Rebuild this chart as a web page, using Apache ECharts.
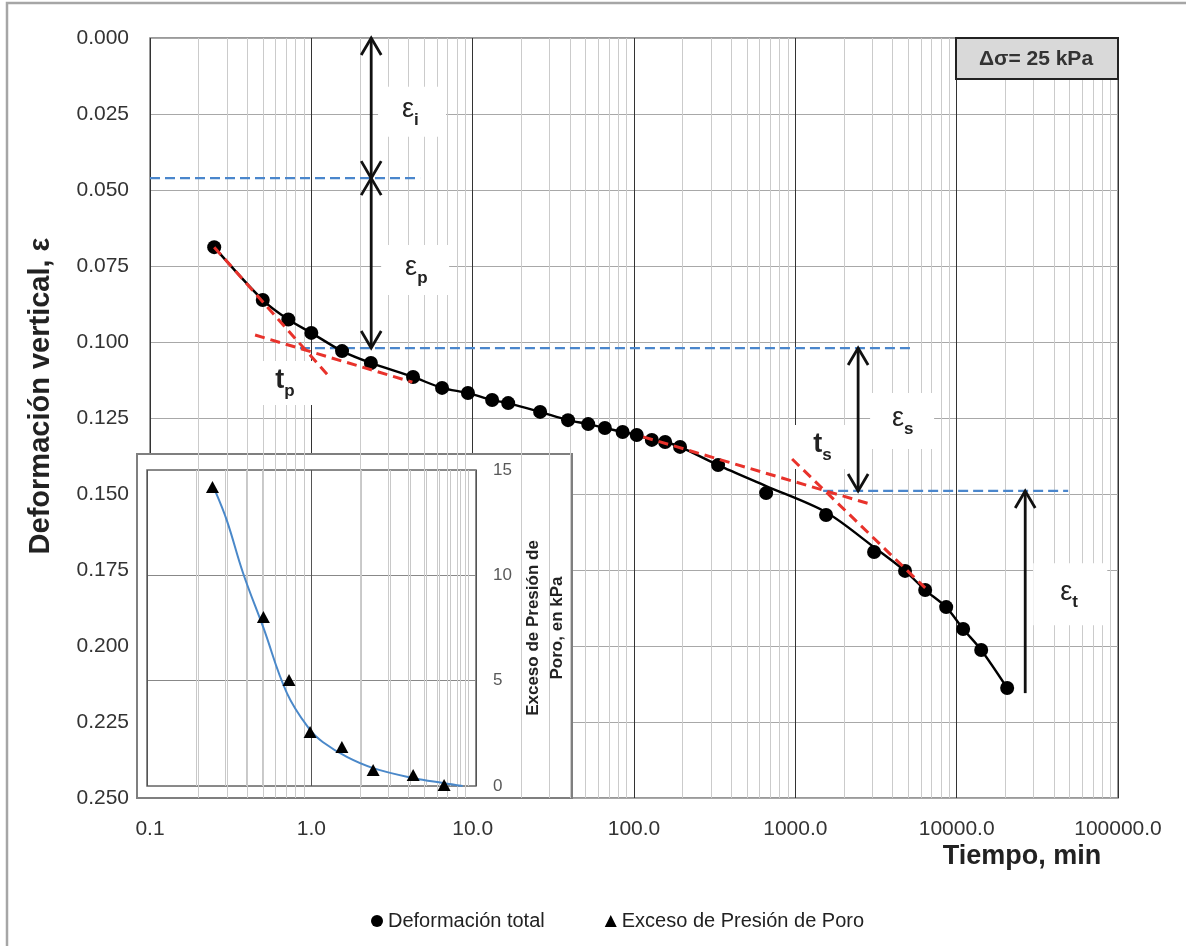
<!DOCTYPE html>
<html><head><meta charset="utf-8">
<script src="https://cdn.jsdelivr.net/npm/echarts@6/dist/echarts.min.js"></script>
<style>html,body{margin:0;padding:0;background:#fff}#c{width:1186px;height:946px}</style>
</head><body><div id="c"></div>
<script>
// ---------- data ----------
const timeMin = [0.25, 0.5, 0.72, 1.0, 1.55, 2.34, 4.27, 6.46, 9.35, 13.2, 16.6, 26.2, 39, 52, 66, 85, 104, 129, 156, 193, 332, 659, 1550, 3076, 4786, 6380, 8610, 10970, 14190, 20560];
const strain  = [0.0688, 0.0862, 0.0926, 0.0970, 0.1030, 0.1069, 0.1115, 0.1151, 0.1168, 0.1191, 0.1201, 0.1230, 0.1257, 0.1270, 0.1283, 0.1296, 0.1306, 0.1322, 0.1329, 0.1345, 0.1405, 0.1497, 0.1569, 0.1691, 0.1753, 0.1816, 0.1872, 0.1944, 0.2013, 0.2138];
const curveTime   = [0.25, 0.5, 0.72, 1.0, 1.55, 2.34, 4.27, 6.46, 9.35, 13.2, 16.6, 26.2, 39, 52, 66, 85, 104, 129, 156, 193, 332, 659, 1550, 3076, 4786, 6380, 8610, 10970, 14190, 20560];
const curveStrain = [0.0688, 0.0862, 0.0926, 0.0970, 0.1030, 0.1069, 0.1115, 0.1151, 0.1168, 0.1191, 0.1201, 0.1230, 0.1257, 0.1270, 0.1283, 0.1296, 0.1306, 0.1322, 0.1329, 0.1345, 0.1405, 0.1474, 0.1560, 0.1675, 0.1753, 0.1816, 0.1872, 0.1944, 0.2013, 0.2138];

const poreTime     = [0.25, 0.51, 0.73, 0.98, 1.53, 2.37, 4.15, 6.4];
const porePressure = [14.19, 8.02, 5.03, 2.56, 1.85, 0.76, 0.52, 0.05];
const poreCurveTime = [0.26, 0.306, 0.384, 0.508, 0.71, 0.98, 1.17, 1.64, 2.37, 4.15, 6.3, 8.3];
const poreCurve     = [14.0, 12.6, 10.1, 7.55, 4.4, 2.66, 2.09, 1.38, 0.85, 0.38, 0.14, 0.0];

// construction lines [[t, eps], [t, eps]]
const tangentPrimary1   = [[0.25, 0.0688], [1.31, 0.1118]];
const tangentPrimary2   = [[0.448, 0.0977], [4.23, 0.1132]];
const tangentSecondary1 = [[114, 0.1312], [3035, 0.1536]];
const tangentSecondary2 = [[955, 0.1385], [6380, 0.1809]];
const levelInitial   = [[0.1, 0.0461], [4.72, 0.0461]];
const levelPrimary   = [[0.85, 0.1020], [5150, 0.1020]];
const levelSecondary = [[1487, 0.1490], [49100, 0.1490]];

// annotation arrows: [t, epsFrom, epsTo]
const arrowEpsI = [2.35, 0.0, 0.0461];
const arrowEpsP = [2.35, 0.0461, 0.1020];
const arrowEpsS = [2450, 0.1020, 0.1490];
const arrowEpsT = [26600, 0.2155, 0.1490];
// labels: [t, eps, main, sub]
const labelEpsI = [4.21, 0.0243, 'ε', 'i'];
const labelEpsP = [4.40, 0.0763, 'ε', 'p'];
const labelTp   = [0.66, 0.1135, 't', 'p'];
const labelTs   = [1426, 0.1345, 't', 's'];
const labelEpsS = [4590, 0.1260, 'ε', 's'];
const labelEpsT = [50600, 0.1830, 'ε', 't'];

const xTickDecimals = 1;
const yTickDecimals = 3;

// ---------- chart ----------
const NARROW = '"Liberation Sans Narrow", "Arial Narrow", "Liberation Sans", Arial, sans-serif';
const SANS = '"Liberation Sans", Arial, sans-serif';
const zip = (a, b) => a.map((v, i) => [v, b[i]]);
function minorValues(lo, hi) {
  const out = [];
  for (let d = lo; d < hi * 0.999; d *= 10) for (let k = 2; k <= 9; k++) out.push(Number((d * k).toPrecision(6)));
  return out;
}
const mainMinor = minorValues(0.1, 100000);
const insetMinor = minorValues(0.1, 10);
const fmtX = v => { const n = Number(Number(v).toPrecision(6)); return n < 1 ? String(n) : n.toFixed(xTickDecimals); };

const chart = echarts.init(document.getElementById('c'));
const red = '#e8322b', blue = '#4a86cc';
function dashed(data, color, width, z, dash) {
  return { type: 'line', xAxisIndex: 0, yAxisIndex: 0, data: data, symbol: 'none', silent: true, z: z,
    lineStyle: { color: color, width: width, type: dash } };
}
const option = {
  animation: false,
  backgroundColor: '#fff',
  grid: [
    { left: 150, top: 38, width: 968, height: 760, show: true, borderColor: '#7a7a7a', borderWidth: 1.5, z: 0 },
    { left: 147, top: 470, width: 329, height: 316, show: true, borderColor: '#666', borderWidth: 1.5, backgroundColor: 'transparent', z: 5 }
  ],
  xAxis: [
    { type: 'log', logBase: 10, min: 0.1, max: 100000, splitNumber: 6, gridIndex: 0,
      axisLine: { show: false }, axisTick: { show: false },
      axisLabel: { formatter: fmtX, margin: 21, fontSize: 21, color: '#333', fontFamily: NARROW },
      splitLine: { show: true, lineStyle: { color: '#333', width: 1 } }, z: 0 },
    { type: 'log', logBase: 10, min: 0.1, max: 10, splitNumber: 2, gridIndex: 1,
      axisLine: { show: false }, axisTick: { show: false }, axisLabel: { show: false },
      splitLine: { show: true, lineStyle: { color: '#555', width: 1 } }, z: 5 }
  ],
  yAxis: [
    { type: 'value', inverse: true, min: 0, max: 0.25, interval: 0.025, gridIndex: 0,
      axisLine: { show: false }, axisTick: { show: false },
      axisLabel: { formatter: v => v.toFixed(yTickDecimals), margin: 21, fontSize: 21, color: '#333', fontFamily: SANS },
      splitLine: { lineStyle: { color: '#a8a8a8', width: 1 } }, z: 0 },
    { type: 'value', min: 0, max: 15, interval: 5, gridIndex: 1, position: 'right',
      axisLine: { show: false }, axisTick: { show: false },
      axisLabel: { margin: 17, fontSize: 17, color: '#595959', fontFamily: SANS },
      splitLine: { lineStyle: { color: '#888', width: 1 } }, z: 5 }
  ],
  legend: {
    data: [{ name: 'Deformación total', icon: 'circle' }, { name: 'Exceso de Presión de Poro', icon: 'triangle' }],
    left: 366, top: 906, itemWidth: 12, itemHeight: 12, itemGap: 60, selectedMode: false,
    textStyle: { fontSize: 20, color: '#222', fontFamily: NARROW }
  },
  series: [
    { type: 'line', xAxisIndex: 0, yAxisIndex: 0, data: [], silent: true, z: 1,
      markLine: { silent: true, animation: false, symbol: ['none', 'none'], label: { show: false },
        lineStyle: { color: '#cbcbcb', width: 1, type: 'solid' }, data: mainMinor.map(v => ({ xAxis: v })) } },
    { type: 'line', xAxisIndex: 1, yAxisIndex: 1, data: [], silent: true, z: 4,
      markLine: { silent: true, animation: false, symbol: ['none', 'none'], label: { show: false },
        lineStyle: { color: '#c8c8c8', width: 1, type: 'solid' }, data: insetMinor.map(v => ({ xAxis: v })) } },
    dashed(levelInitial, blue, 2.2, 6, [10, 5]),
    dashed(levelPrimary, blue, 2.2, 6, [10, 5]),
    dashed(levelSecondary, blue, 2.2, 6, [10, 5]),
    { type: 'line', xAxisIndex: 0, yAxisIndex: 0, data: zip(curveTime, curveStrain), symbol: 'none', smooth: 0.3,
      silent: true, lineStyle: { color: '#000', width: 2.4 }, z: 6 },
    dashed(tangentPrimary1, red, 3, 7, [10, 6]),
    dashed(tangentPrimary2, red, 3, 7, [10, 6]),
    dashed(tangentSecondary1, red, 3, 7, [10, 6]),
    dashed(tangentSecondary2, red, 3, 7, [10, 6]),
    { name: 'Deformación total', type: 'scatter', xAxisIndex: 0, yAxisIndex: 0, data: zip(timeMin, strain),
      symbol: 'circle', symbolSize: 14, itemStyle: { color: '#000', opacity: 1 }, z: 6.5 },
    { type: 'line', xAxisIndex: 1, yAxisIndex: 1, data: zip(poreCurveTime, poreCurve), symbol: 'none', smooth: 0.4,
      silent: true, lineStyle: { color: '#4a88c9', width: 2 }, z: 6 },
    { name: 'Exceso de Presión de Poro', type: 'scatter', xAxisIndex: 1, yAxisIndex: 1, data: zip(poreTime, porePressure),
      symbol: 'triangle', symbolSize: [13, 12], itemStyle: { color: '#000', opacity: 1 }, z: 7 }
  ]
};
chart.setOption(option);

// ---------- annotations (positions converted through the axes) ----------
const P = (x, y) => chart.convertToPixel({ seriesIndex: 10 }, [x, y]);
const els = [];
els.push({ type: 'polyline', shape: { points: [[7, 950], [7, 3], [1190, 3]] }, style: { stroke: '#a6a6a6', lineWidth: 2.5, fill: null }, z: 10, silent: true });
els.push({ type: 'rect', shape: { x: 137, y: 454, width: 435, height: 344 }, style: { fill: '#fff', stroke: '#7f7f7f', lineWidth: 2 }, z: 3, silent: true });

function head(x, y, up) {
  const dy = up ? 17 : -17;
  return { type: 'polyline', shape: { points: [[x - 10, y + dy], [x, y], [x + 10, y + dy]] }, style: { stroke: '#111', lineWidth: 2.8, fill: null }, z: 8, silent: true };
}
function arrow(a, both) {
  const p1 = P(a[0], a[1]), p2 = P(a[0], a[2]);
  els.push({ type: 'line', shape: { x1: p1[0], y1: p1[1], x2: p2[0], y2: p2[1] }, style: { stroke: '#111', lineWidth: 2.8 }, z: 8, silent: true });
  const up2 = p2[1] < p1[1];
  els.push(head(p2[0], p2[1], up2));
  if (both) els.push(head(p1[0], p1[1], !up2));
}
arrow(arrowEpsI, true);
arrow(arrowEpsP, true);
arrow(arrowEpsS, true);
arrow(arrowEpsT, false);

function label(l, w, h) {
  const p = P(l[0], l[1]);
  els.push({ type: 'rect', shape: { x: p[0] - w / 2, y: p[1] - h / 2, width: w, height: h }, style: { fill: '#fff' }, z: 5.5, silent: true });
  const isEps = l[2] === 'ε';
  els.push({ type: 'text', x: p[0] + 2, y: p[1] - 2, z: 9, silent: true,
    style: { text: l[2], fill: '#222', align: 'right', verticalAlign: 'middle',
      font: (isEps ? '' : 'bold ') + '27px ' + SANS } });
  els.push({ type: 'text', x: p[0] + 2, y: p[1] + 8, z: 9, silent: true,
    style: { text: l[3], fill: '#222', align: 'left', verticalAlign: 'middle', font: 'bold 17px ' + SANS } });
}
label(labelEpsI, 68, 50);
label(labelEpsP, 68, 50);
label(labelTp, 62, 44);
label(labelTs, 54, 44);
label(labelEpsS, 64, 56);
label(labelEpsT, 74, 62);

// delta sigma box
els.push({ type: 'rect', shape: { x: 956, y: 38, width: 162, height: 41 }, style: { fill: '#d9d9d9', stroke: '#222', lineWidth: 2 }, z: 9, silent: true });
els.push({ type: 'text', x: 1036, y: 59, z: 10, silent: true, style: { text: 'Δσ= 25 kPa', fill: '#333', align: 'center', verticalAlign: 'middle', font: 'bold 21px ' + SANS } });

// axis titles
els.push({ type: 'text', x: 41, y: 396, rotation: Math.PI / 2, z: 10, silent: true,
  style: { text: 'Deformación vertical, ε', fill: '#222', align: 'center', verticalAlign: 'middle', font: 'bold 29px ' + SANS } });
els.push({ type: 'text', x: 1022, y: 857, z: 10, silent: true,
  style: { text: 'Tiempo, min', fill: '#222', align: 'center', verticalAlign: 'middle', font: 'bold 27px ' + NARROW } });
els.push({ type: 'text', x: 545, y: 628, rotation: Math.PI / 2, z: 10, silent: true,
  style: { text: 'Exceso de Presión de\nPoro, en kPa', fill: '#222', align: 'center', verticalAlign: 'middle', lineHeight: 24, font: 'bold 17px ' + SANS } });

chart.setOption({ graphic: { elements: els } });
</script>
</body></html>
